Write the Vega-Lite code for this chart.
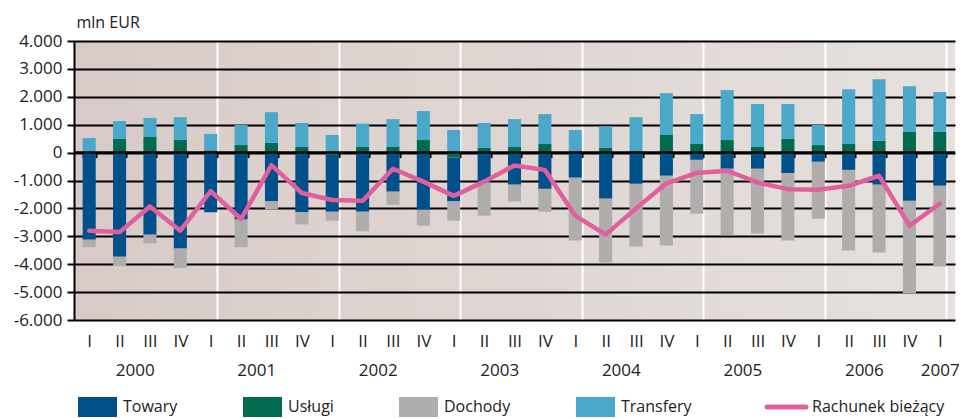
{
  "$schema": "https://vega.github.io/schema/vega-lite/v6.json",
  "width": 881,
  "height": 279,
  "autosize": {"type": "none"},
  "padding": {"left": 74, "top": 41, "right": 7, "bottom": 99},
  "background": "white",
  "view": {"stroke": null, "fill": {"gradient": "linear", "x1": 0, "y1": 0, "x2": 1, "y2": 0, "stops": [{"offset": 0, "color": "#D8CBC7"}, {"offset": 1, "color": "#E6E1DE"}]}},
  "config": {
    "font": "Open Sans",
    "locale": {"number": {"decimal": ",", "thousands": ".", "grouping": [3], "currency": ["", ""], "minus": "-"}}
  },
  "datasets": {
    "bars": [
      {"q": "2000-Q1", "comp": "Towary", "value": -3120}, {"q": "2000-Q1", "comp": "Usługi", "value": 0}, {"q": "2000-Q1", "comp": "Dochody", "value": -270}, {"q": "2000-Q1", "comp": "Transfery", "value": 520},
      {"q": "2000-Q2", "comp": "Towary", "value": -3730}, {"q": "2000-Q2", "comp": "Usługi", "value": 490}, {"q": "2000-Q2", "comp": "Dochody", "value": -340}, {"q": "2000-Q2", "comp": "Transfery", "value": 640},
      {"q": "2000-Q3", "comp": "Towary", "value": -2940}, {"q": "2000-Q3", "comp": "Usługi", "value": 560}, {"q": "2000-Q3", "comp": "Dochody", "value": -310}, {"q": "2000-Q3", "comp": "Transfery", "value": 680},
      {"q": "2000-Q4", "comp": "Towary", "value": -3440}, {"q": "2000-Q4", "comp": "Usługi", "value": 450}, {"q": "2000-Q4", "comp": "Dochody", "value": -700}, {"q": "2000-Q4", "comp": "Transfery", "value": 820},
      {"q": "2001-Q1", "comp": "Towary", "value": -2140}, {"q": "2001-Q1", "comp": "Usługi", "value": 80}, {"q": "2001-Q1", "comp": "Dochody", "value": -20}, {"q": "2001-Q1", "comp": "Transfery", "value": 590},
      {"q": "2001-Q2", "comp": "Towary", "value": -2400}, {"q": "2001-Q2", "comp": "Usługi", "value": 270}, {"q": "2001-Q2", "comp": "Dochody", "value": -990}, {"q": "2001-Q2", "comp": "Transfery", "value": 720},
      {"q": "2001-Q3", "comp": "Towary", "value": -1750}, {"q": "2001-Q3", "comp": "Usługi", "value": 350}, {"q": "2001-Q3", "comp": "Dochody", "value": -290}, {"q": "2001-Q3", "comp": "Transfery", "value": 1100},
      {"q": "2001-Q4", "comp": "Towary", "value": -2140}, {"q": "2001-Q4", "comp": "Usługi", "value": 200}, {"q": "2001-Q4", "comp": "Dochody", "value": -430}, {"q": "2001-Q4", "comp": "Transfery", "value": 860},
      {"q": "2002-Q1", "comp": "Towary", "value": -2050}, {"q": "2002-Q1", "comp": "Usługi", "value": -70}, {"q": "2002-Q1", "comp": "Dochody", "value": -320}, {"q": "2002-Q1", "comp": "Transfery", "value": 630},
      {"q": "2002-Q2", "comp": "Towary", "value": -2120}, {"q": "2002-Q2", "comp": "Usługi", "value": 200}, {"q": "2002-Q2", "comp": "Dochody", "value": -700}, {"q": "2002-Q2", "comp": "Transfery", "value": 840},
      {"q": "2002-Q3", "comp": "Towary", "value": -1400}, {"q": "2002-Q3", "comp": "Usługi", "value": 200}, {"q": "2002-Q3", "comp": "Dochody", "value": -470}, {"q": "2002-Q3", "comp": "Transfery", "value": 1000},
      {"q": "2002-Q4", "comp": "Towary", "value": -2050}, {"q": "2002-Q4", "comp": "Usługi", "value": 450}, {"q": "2002-Q4", "comp": "Dochody", "value": -570}, {"q": "2002-Q4", "comp": "Transfery", "value": 1040},
      {"q": "2003-Q1", "comp": "Towary", "value": -1570}, {"q": "2003-Q1", "comp": "Usługi", "value": -180}, {"q": "2003-Q1", "comp": "Dochody", "value": -690}, {"q": "2003-Q1", "comp": "Transfery", "value": 810},
      {"q": "2003-Q2", "comp": "Towary", "value": -1070}, {"q": "2003-Q2", "comp": "Usługi", "value": 170}, {"q": "2003-Q2", "comp": "Dochody", "value": -1190}, {"q": "2003-Q2", "comp": "Transfery", "value": 890},
      {"q": "2003-Q3", "comp": "Towary", "value": -1150}, {"q": "2003-Q3", "comp": "Usługi", "value": 200}, {"q": "2003-Q3", "comp": "Dochody", "value": -600}, {"q": "2003-Q3", "comp": "Transfery", "value": 1000},
      {"q": "2003-Q4", "comp": "Towary", "value": -1300}, {"q": "2003-Q4", "comp": "Usługi", "value": 310}, {"q": "2003-Q4", "comp": "Dochody", "value": -820}, {"q": "2003-Q4", "comp": "Transfery", "value": 1070},
      {"q": "2004-Q1", "comp": "Towary", "value": -900}, {"q": "2004-Q1", "comp": "Usługi", "value": 0}, {"q": "2004-Q1", "comp": "Dochody", "value": -2250}, {"q": "2004-Q1", "comp": "Transfery", "value": 810},
      {"q": "2004-Q2", "comp": "Towary", "value": -1650}, {"q": "2004-Q2", "comp": "Usługi", "value": 170}, {"q": "2004-Q2", "comp": "Dochody", "value": -2290}, {"q": "2004-Q2", "comp": "Transfery", "value": 780},
      {"q": "2004-Q3", "comp": "Towary", "value": -1120}, {"q": "2004-Q3", "comp": "Usługi", "value": 0}, {"q": "2004-Q3", "comp": "Dochody", "value": -2250}, {"q": "2004-Q3", "comp": "Transfery", "value": 1270},
      {"q": "2004-Q4", "comp": "Towary", "value": -830}, {"q": "2004-Q4", "comp": "Usługi", "value": 630}, {"q": "2004-Q4", "comp": "Dochody", "value": -2500}, {"q": "2004-Q4", "comp": "Transfery", "value": 1500},
      {"q": "2005-Q1", "comp": "Towary", "value": -260}, {"q": "2005-Q1", "comp": "Usługi", "value": 310}, {"q": "2005-Q1", "comp": "Dochody", "value": -1930}, {"q": "2005-Q1", "comp": "Transfery", "value": 1070},
      {"q": "2005-Q2", "comp": "Towary", "value": -580}, {"q": "2005-Q2", "comp": "Usługi", "value": 450}, {"q": "2005-Q2", "comp": "Dochody", "value": -2380}, {"q": "2005-Q2", "comp": "Transfery", "value": 1790},
      {"q": "2005-Q3", "comp": "Towary", "value": -580}, {"q": "2005-Q3", "comp": "Usługi", "value": 200}, {"q": "2005-Q3", "comp": "Dochody", "value": -2320}, {"q": "2005-Q3", "comp": "Transfery", "value": 1540},
      {"q": "2005-Q4", "comp": "Towary", "value": -730}, {"q": "2005-Q4", "comp": "Usługi", "value": 490}, {"q": "2005-Q4", "comp": "Dochody", "value": -2420}, {"q": "2005-Q4", "comp": "Transfery", "value": 1250},
      {"q": "2006-Q1", "comp": "Towary", "value": -330}, {"q": "2006-Q1", "comp": "Usługi", "value": 270}, {"q": "2006-Q1", "comp": "Dochody", "value": -2040}, {"q": "2006-Q1", "comp": "Transfery", "value": 720},
      {"q": "2006-Q2", "comp": "Towary", "value": -620}, {"q": "2006-Q2", "comp": "Usługi", "value": 310}, {"q": "2006-Q2", "comp": "Dochody", "value": -2890}, {"q": "2006-Q2", "comp": "Transfery", "value": 1960},
      {"q": "2006-Q3", "comp": "Towary", "value": -1150}, {"q": "2006-Q3", "comp": "Usługi", "value": 420}, {"q": "2006-Q3", "comp": "Dochody", "value": -2430}, {"q": "2006-Q3", "comp": "Transfery", "value": 2210},
      {"q": "2006-Q4", "comp": "Towary", "value": -1730}, {"q": "2006-Q4", "comp": "Usługi", "value": 740}, {"q": "2006-Q4", "comp": "Dochody", "value": -3320}, {"q": "2006-Q4", "comp": "Transfery", "value": 1640},
      {"q": "2007-Q1", "comp": "Towary", "value": -1190}, {"q": "2007-Q1", "comp": "Usługi", "value": 740}, {"q": "2007-Q1", "comp": "Dochody", "value": -2890}, {"q": "2007-Q1", "comp": "Transfery", "value": 1430}
    ],
    "line": [
      {"q": "2000-Q1", "value": -2800}, {"q": "2000-Q2", "value": -2850}, {"q": "2000-Q3", "value": -1930}, {"q": "2000-Q4", "value": -2800},
      {"q": "2001-Q1", "value": -1380}, {"q": "2001-Q2", "value": -2380}, {"q": "2001-Q3", "value": -450}, {"q": "2001-Q4", "value": -1450},
      {"q": "2002-Q1", "value": -1700}, {"q": "2002-Q2", "value": -1730}, {"q": "2002-Q3", "value": -580}, {"q": "2002-Q4", "value": -1040},
      {"q": "2003-Q1", "value": -1550}, {"q": "2003-Q2", "value": -1040}, {"q": "2003-Q3", "value": -460}, {"q": "2003-Q4", "value": -620},
      {"q": "2004-Q1", "value": -2260}, {"q": "2004-Q2", "value": -2940}, {"q": "2004-Q3", "value": -2000}, {"q": "2004-Q4", "value": -1100},
      {"q": "2005-Q1", "value": -730}, {"q": "2005-Q2", "value": -650}, {"q": "2005-Q3", "value": -1070}, {"q": "2005-Q4", "value": -1310},
      {"q": "2006-Q1", "value": -1330}, {"q": "2006-Q2", "value": -1190}, {"q": "2006-Q3", "value": -830}, {"q": "2006-Q4", "value": -2620},
      {"q": "2007-Q1", "value": -1830}
    ]
  },
  "encoding": {
    "y": {
      "field": "value", "type": "quantitative",
      "scale": {"domain": [-6000, 4000], "nice": false, "zero": false},
      "axis": {
        "title": "mln EUR", "titleAngle": 0, "titleAlign": "left", "titleBaseline": "alphabetic",
        "titleX": 2, "titleY": -14, "titleFont": "Open Sans", "titleFontSize": 16, "titleFontWeight": "normal", "titleColor": "#222222",
        "values": [-6000, -5000, -4000, -3000, -2000, -1000, 0, 1000, 2000, 3000, 4000],
        "format": ",.0f", "labelFont": "Open Sans", "labelFontSize": 17, "labelColor": "#222222", "labelPadding": 5,
        "labelOverlap": false, "labelBound": false, "labelFlush": false,
        "tickSize": 7, "tickColor": "black", "tickWidth": 2,
        "domainColor": "black", "domainWidth": 2,
        "grid": true, "gridColor": "black", "gridWidth": 2, "gridOpacity": 1
      }
    }
  },
  "layer": [
    {
      "data": {"name": "bars"},
      "mark": {"type": "bar"},
      "encoding": {
        "x": {
          "field": "q", "type": "ordinal",
          "scale": {"paddingInner": 0.57, "paddingOuter": 0.285},
          "axis": {
            "orient": "bottom", "offset": -167.4, "domain": false, "ticks": true, "tickBand": "extent",
            "tickSize": 5, "tickWidth": 2, "tickColor": "black", "grid": false, "title": null, "labelAngle": 0,
            "labelExpr": "datum.value ? ((slice(datum.value, 5) === 'Q2' || datum.value === '2007-Q1') ? slice(datum.value, 0, 4) : '') : ''",
            "labelOffset": {"condition": {"test": "datum.value && slice(datum.value, 5) === 'Q2'", "value": 15.19}, "value": 0},
            "labelFont": "Open Sans", "labelFontSize": 17, "labelColor": "#222222", "labelPadding": 205,
            "labelBaseline": "top", "labelOverlap": false, "labelBound": false, "labelFlush": false
          }
        },
        "color": {
          "field": "comp", "type": "nominal",
          "scale": {
            "domain": ["Towary", "Usługi", "Dochody", "Transfery", "Rachunek bieżący"],
            "range": ["#00508B", "#006B4F", "#B0ADAD", "#4BA8C8", "#E0609E"]
          },
          "legend": {
            "orient": "none", "legendX": 4, "legendY": 356, "direction": "horizontal", "title": null,
            "padding": 0, "columnPadding": 65, "symbolSize": 1521,
            "symbolType": "M-1,-0.51H1V0.51H-1Z", "labelFont": "Open Sans", "labelFontSize": 16,
            "labelColor": "#222222", "labelLimit": 300,
            "encode": {
              "symbols": {
                "update": {
                  "x": {"value": 19.5},
                  "y": {"value": 10},
                  "shape": {"signal": "datum.value === 'Rachunek bieżący' ? 'M-1,0H1' : 'M-1,-0.51H1V0.51H-1Z'"},
                  "size": {"value": 1521},
                  "fill": {"signal": "datum.value === 'Rachunek bieżący' ? 'transparent' : (datum.value === 'Transfery' ? '#17A8C8' : scale('color', datum.value))"},
                  "stroke": {"signal": "datum.value === 'Rachunek bieżący' ? '#E0609E' : 'transparent'"},
                  "strokeWidth": {"signal": "datum.value === 'Rachunek bieżący' ? 5 : 0"},
                  "strokeCap": {"value": "round"},
                  "opacity": {"value": 1}
                }
              },
              "labels": {
                "update": {
                  "x": {"value": 45},
                  "y": {"value": 10},
                  "baseline": {"value": "middle"}
                }
              }
            }
          }
        },
        "order": {"field": "comp", "sort": "descending"}
      }
    },
    {
      "data": {"values": [{"value": 0}]},
      "mark": {"type": "rule", "color": "black", "strokeWidth": 2.5}
    },
    {
      "data": {"name": "line"},
      "mark": {"type": "line", "strokeWidth": 4.5, "strokeCap": "round", "strokeJoin": "round"},
      "encoding": {
        "x": {
          "field": "q", "type": "ordinal",
          "axis": {
            "orient": "bottom", "domain": false, "ticks": false, "tickBand": "extent",
            "grid": true, "gridColor": "white", "gridWidth": 2,
            "gridOpacity": {"condition": {"test": "datum.value && slice(datum.value, 5) === 'Q1' && datum.value !== '2000-Q1'", "value": 1}, "value": 0},
            "title": null, "labelAngle": 0,
            "labelExpr": "datum.value ? (slice(datum.value, 5) === 'Q1' ? 'I' : slice(datum.value, 5) === 'Q2' ? 'II' : slice(datum.value, 5) === 'Q3' ? 'III' : 'IV') : ''",
            "labelFont": "Open Sans", "labelFontSize": 17, "labelColor": "#222222", "labelPadding": 13,
            "labelBaseline": "top", "labelOverlap": false, "labelBound": false, "labelFlush": false
          }
        },
        "color": {"datum": "Rachunek bieżący"}
      }
    }
  ],
  "resolve": {"axis": {"x": "independent"}}
}
